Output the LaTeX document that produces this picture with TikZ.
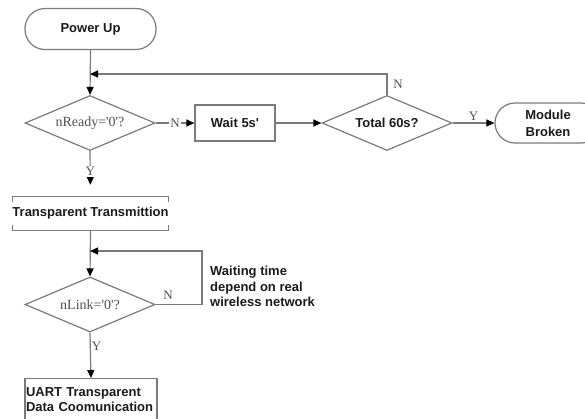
\documentclass[tikz,border=0pt]{standalone}
\usepackage{fontspec}
\setmainfont{Liberation Serif}
\newfontfamily\arialb{Liberation Sans}[BoldFont={* Bold}]
\usetikzlibrary{shapes.geometric,arrows.meta}
\definecolor{linegray}{HTML}{7A7A7A}
\definecolor{txtgray}{HTML}{505050}
\definecolor{txtdark}{HTML}{1A1A1A}
\tikzset{
  ln/.style={draw=linegray,line width=1.2pt},
  arr/.style={ln,-{Triangle[length=8pt,width=7pt,color=black]}},
  bold/.style={font=\arialb\bfseries\fontsize{13}{16}\selectfont,text=txtdark},
  term/.style={ln,bold,rounded corners=20pt,inner sep=0pt,align=center},
  procbox/.style={ln,bold,inner sep=0pt,align=center},
  decide/.style={ln,diamond,aspect=2.4,inner sep=0pt,minimum width=130pt,minimum height=55pt,font=\fontsize{14}{16}\selectfont,text=txtgray},
  boldec/.style={decide,bold},
  lbl/.style={font=\fontsize{13}{15}\selectfont,text=txtgray,inner sep=1pt},
}
\begin{document}
\begin{tikzpicture}[x=1pt,y=-1pt]
\useasboundingbox (0,0) rectangle (585,418);
% nodes
\node[term,minimum width=131pt,minimum height=41pt] (pu) at (90.5,29) {Power Up};
\node[decide] (d1) at (90,123) {nReady=\textquotesingle0\textquotesingle?};
\node[procbox,minimum width=80pt,minimum height=36pt] (wait) at (235,123) {Wait 5s\textquotesingle};
\node[boldec] (d2) at (387,123) {Total 60s?};
\node[term,minimum width=106pt,minimum height=40pt,font=\arialb\bfseries\fontsize{13}{17}\selectfont] (mb) at (548,123) {Module\\Broken};
\node[bold,minimum width=131pt,minimum height=33pt,inner sep=0pt] (tt) at (90.5,213.5) {Transparent Transmittion};
\node[decide] (d3) at (90,304.5) {nLink=\textquotesingle0\textquotesingle?};
\node[procbox,minimum width=132pt,minimum height=48pt,align=left,anchor=north,text width=130pt,font=\arialb\bfseries\fontsize{13}{15}\selectfont] (ua) at (91,378) {\\[-13pt]UART Transparent\\Data Coomunication};
\node[bold,anchor=north west,align=left,inner sep=0pt,font=\arialb\bfseries\fontsize{13}{15.5}\selectfont] (wt) at (210,266) {Waiting time\\depend on real\\wireless network};
\coordinate (j1) at (90,74);
\coordinate (j2) at (202,251);
\coordinate (j3) at (90,251);
% open box of Transparent Transmittion
\draw[ln] ([yshift=-5pt]tt.north west) -- (tt.north west) -- (tt.north east) -- ([yshift=-5pt]tt.north east);
\draw[ln] ([yshift=5pt]tt.south west) -- (tt.south west) -- (tt.south east) -- ([yshift=5pt]tt.south east);
% connectors
\draw[arr] (pu.south) -- (d1.north);
\draw[arr] (d2.north) |- (j1);
\node[lbl] (n2) at (398,84) {N};
\draw[arr] (d1.east) -- node[lbl,fill=white] (n1) {N} (wait.west);
\draw[arr] (wait.east) -- (d2.west);
\draw[arr] (d2.east) -- node[lbl,above,yshift=1pt] (y2) {Y} (mb.west);
\draw[arr,shorten >=12pt] (d1.south) -- node[lbl,fill=white,pos=0.45] (y1) {Y} (tt.north);
\draw[arr] (tt.south) -- (d3.north);
\draw[arr] (d3.east) -| (j2) -- (j3);
\node[lbl] (n3) at (168,295) {N};
\draw[arr] (d3.south) -- node[lbl,right,pos=0.3] (y3) {Y} (ua.north);
\end{tikzpicture}
\end{document}
